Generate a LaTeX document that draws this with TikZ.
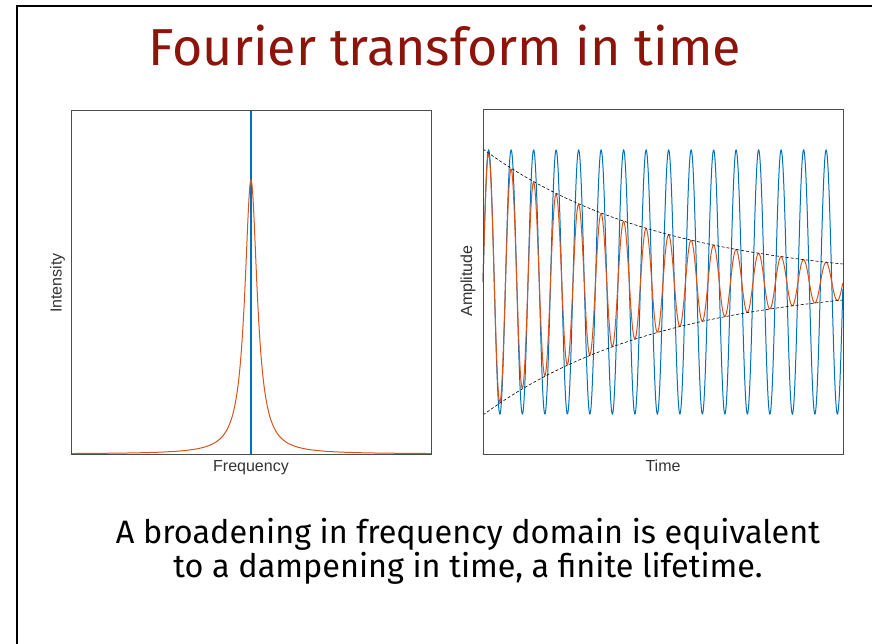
\documentclass[tikz,border=0pt]{standalone}
\usepackage{fontspec}
\setmainfont{Fira Sans}
\newfontfamily\plotfont{Liberation Sans}
\definecolor{slidered}{RGB}{140,20,10}
\definecolor{mblue}{RGB}{0,114,189}
\definecolor{morange}{RGB}{217,83,25}

\begin{document}
\begin{tikzpicture}[x=1pt,y=-1pt,
    axisbox/.style={draw=black!70,line width=0.9pt},
    axlabel/.style={font=\plotfont\fontsize{16}{16}\selectfont,text=black!80,inner sep=0pt},
    caption/.style={anchor=base,font=\fontsize{32.4}{32.4}\selectfont,inner sep=0pt},
    envelope/.style={densely dashed,line width=0.6pt,black},
    signal/.style={line width=1pt}]
  \useasboundingbox (0,0) rectangle (872,644);
  \draw[line width=1.5pt] (17,644) -- (17,6) -- (872,6);
  \node[anchor=base,text=slidered,font=\fontsize{52}{52}\selectfont,inner sep=0pt] (title) at (445,66) {Fourier transform in time};

  \draw[signal,mblue,line width=1.2pt] (251,110) -- (251,454);
  \draw[signal,morange] plot[domain=-180:180,samples=721] ({251+\x},{454-274/(1+(\x/7.5)^2)});
  \draw[axisbox] (71,110) rectangle (431,454);
  \node[axlabel,anchor=base] (freq) at (251,471.5) {Frequency};
  \node[axlabel,anchor=base,rotate=90] (inten) at (61.5,283) {Intensity};

  \draw[signal,mblue] plot[domain=0:1,samples=1201] ({483+360*\x},{282-132*sin(5760*\x)});
  \draw[signal,morange] plot[domain=0:1,samples=1201] ({483+360*\x},{282-132*exp(-2*\x)*sin(5760*\x)});
  \draw[envelope] plot[domain=0:1,samples=80] ({483+360*\x},{282-133*exp(-2*\x)});
  \draw[envelope] plot[domain=0:1,samples=80] ({483+360*\x},{282+133*exp(-2*\x)});
  \draw[axisbox] (483,109) rectangle (843,454);
  \node[axlabel,anchor=base] (time) at (663,471.5) {Time};
  \node[axlabel,anchor=base,rotate=90] (ampl) at (472,281) {Amplitude};

  \node[caption] (cap1) at (468,543) {A broadening in frequency domain is equivalent};
  \node[caption] (cap2) at (468,577) {to a dampening in time, a finite lifetime.};
\end{tikzpicture}
\end{document}
